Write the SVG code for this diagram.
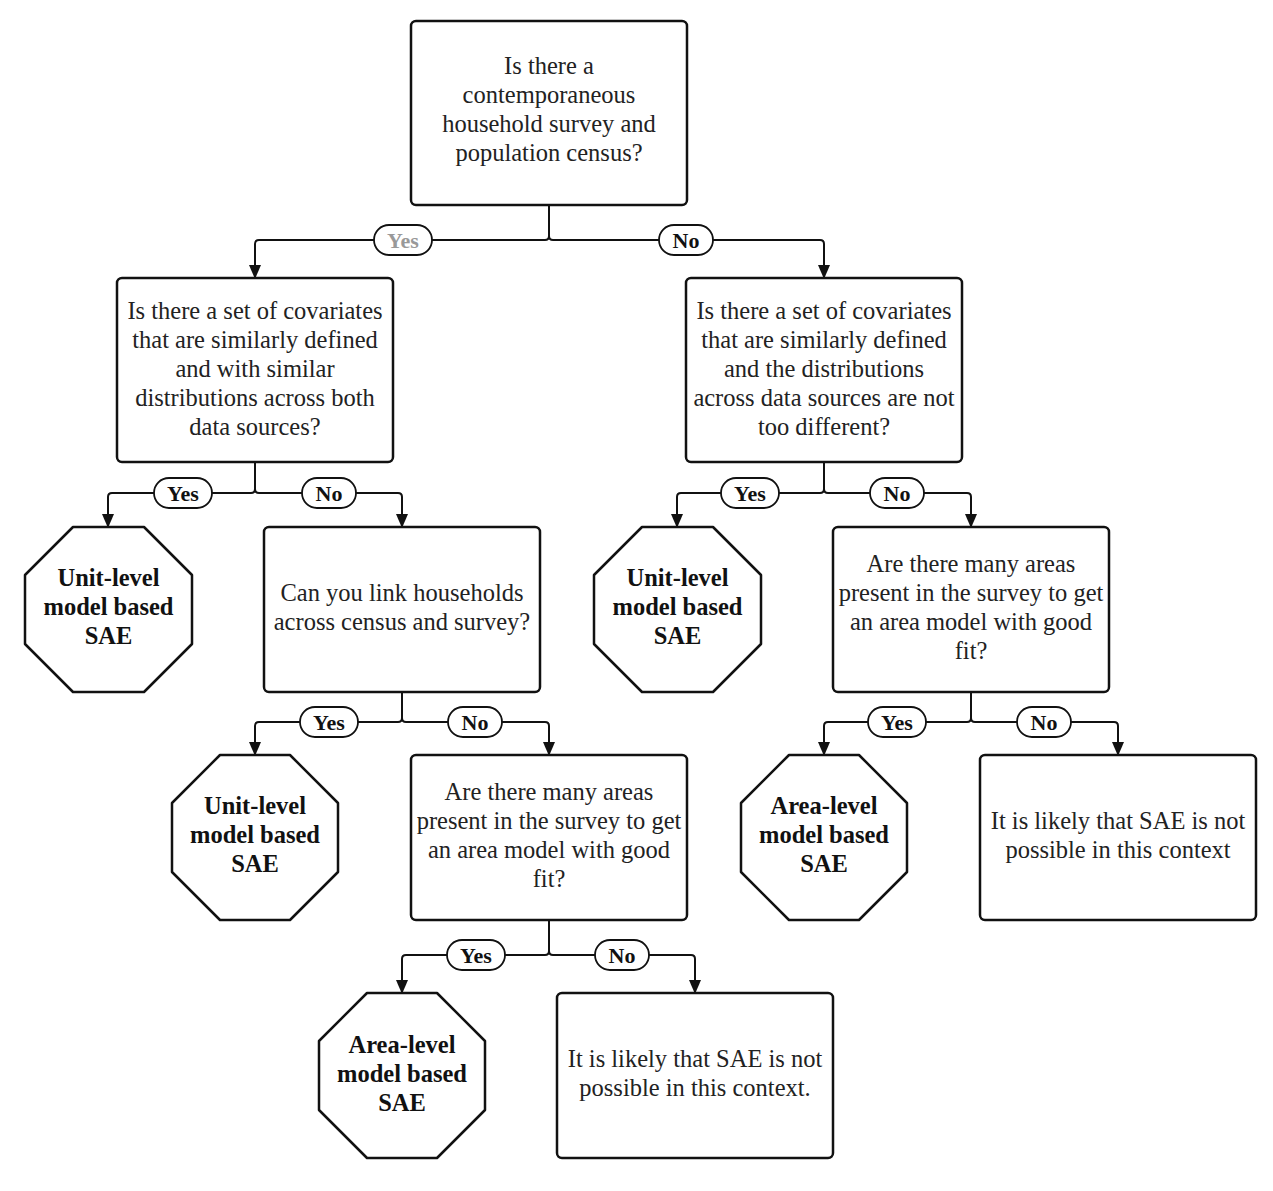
<svg xmlns="http://www.w3.org/2000/svg" width="1273" height="1191" viewBox="0 0 1273 1191">
<style>
.box{fill:#fff;stroke:#111;stroke-width:2.5}
.oct{fill:#fff;stroke:#111;stroke-width:2.5;stroke-linejoin:round}
.t{font-family:"Liberation Serif",serif;font-size:24.5px;fill:#222;text-anchor:middle}
.b{font-family:"Liberation Serif",serif;font-size:24.5px;font-weight:bold;fill:#111;text-anchor:middle}
.pill{fill:#fff;stroke:#111;stroke-width:1.8}
.pl{font-family:"Liberation Serif",serif;font-size:22px;font-weight:bold;fill:#111;text-anchor:middle}
.c{fill:none;stroke:#111;stroke-width:2;marker-end:url(#ah)}
</style>
<defs>
<marker id="ah" viewBox="0 0 14 12" refX="13" refY="6" markerWidth="14" markerHeight="12" markerUnits="userSpaceOnUse" orient="auto">
<path d="M0,0 L14,6 L0,12 z" fill="#111"/>
</marker>
</defs>
<rect width="1273" height="1191" fill="#fff"/>
<g id="connectors">
<path class="c" d="M549,205 V236 Q549,240 545,240 H259 Q255,240 255,244 V278"/>
<path class="c" d="M549,205 V236 Q549,240 553,240 H820 Q824,240 824,244 V278"/>
<path class="c" d="M255,462 V489 Q255,493 251,493 H112 Q108,493 108,497 V527"/>
<path class="c" d="M255,462 V489 Q255,493 259,493 H398 Q402,493 402,497 V527"/>
<path class="c" d="M824,462 V489 Q824,493 820,493 H681 Q677,493 677,497 V527"/>
<path class="c" d="M824,462 V489 Q824,493 828,493 H967 Q971,493 971,497 V527"/>
<path class="c" d="M402,692 V718 Q402,722 398,722 H259 Q255,722 255,726 V755"/>
<path class="c" d="M402,692 V718 Q402,722 406,722 H545 Q549,722 549,726 V755"/>
<path class="c" d="M971,692 V718 Q971,722 967,722 H828 Q824,722 824,726 V755"/>
<path class="c" d="M971,692 V718 Q971,722 975,722 H1114 Q1118,722 1118,726 V755"/>
<path class="c" d="M549,920 V951 Q549,955 545,955 H406 Q402,955 402,959 V993"/>
<path class="c" d="M549,920 V951 Q549,955 553,955 H691 Q695,955 695,959 V993"/>
<g id="labels">
<rect class="pill" x="374" y="225" width="58" height="30" rx="15"/><text class="pl" x="403" y="247.5" style="fill:#999">Yes</text>
<rect class="pill" x="659" y="225" width="54" height="30" rx="15"/><text class="pl" x="686" y="247.5">No</text>
<rect class="pill" x="154" y="478" width="58" height="30" rx="15"/><text class="pl" x="183" y="500.5">Yes</text>
<rect class="pill" x="302" y="478" width="54" height="30" rx="15"/><text class="pl" x="329" y="500.5">No</text>
<rect class="pill" x="721" y="478" width="58" height="30" rx="15"/><text class="pl" x="750" y="500.5">Yes</text>
<rect class="pill" x="870" y="478" width="54" height="30" rx="15"/><text class="pl" x="897" y="500.5">No</text>
<rect class="pill" x="300" y="707" width="58" height="30" rx="15"/><text class="pl" x="329" y="729.5">Yes</text>
<rect class="pill" x="448" y="707" width="54" height="30" rx="15"/><text class="pl" x="475" y="729.5">No</text>
<rect class="pill" x="868" y="707" width="58" height="30" rx="15"/><text class="pl" x="897" y="729.5">Yes</text>
<rect class="pill" x="1017" y="707" width="54" height="30" rx="15"/><text class="pl" x="1044" y="729.5">No</text>
<rect class="pill" x="447" y="940" width="58" height="30" rx="15"/><text class="pl" x="476" y="962.5">Yes</text>
<rect class="pill" x="595" y="940" width="54" height="30" rx="15"/><text class="pl" x="622" y="962.5">No</text>
</g>
</g>
<g id="q1">
<rect class="box" x="411" y="21" width="276" height="184" rx="5"/>
<text class="t" x="549" y="74">Is there a</text>
<text class="t" x="549" y="103">contemporaneous</text>
<text class="t" x="549" y="132">household survey and</text>
<text class="t" x="549" y="161">population census?</text>
</g>
<g id="q2left">
<rect class="box" x="117" y="278" width="276" height="184" rx="5"/>
<text class="t" x="255" y="319">Is there a set of covariates</text>
<text class="t" x="255" y="348">that are similarly defined</text>
<text class="t" x="255" y="377">and with similar</text>
<text class="t" x="255" y="406">distributions across both</text>
<text class="t" x="255" y="435">data sources?</text>
</g>
<g id="q2right">
<rect class="box" x="686" y="278" width="276" height="184" rx="5"/>
<text class="t" x="824" y="319">Is there a set of covariates</text>
<text class="t" x="824" y="348">that are similarly defined</text>
<text class="t" x="824" y="377">and the distributions</text>
<text class="t" x="824" y="406">across data sources are not</text>
<text class="t" x="824" y="435">too different?</text>
</g>
<g id="unit1">
<polygon class="oct" points="73,527 144,527 192,575 192,644 144,692 73,692 25,644 25,575"/>
<text class="b" x="108.5" y="586">Unit-level</text>
<text class="b" x="108.5" y="615">model based</text>
<text class="b" x="108.5" y="644">SAE</text>
</g>
<g id="q3link">
<rect class="box" x="264" y="527" width="276" height="165" rx="5"/>
<text class="t" x="402" y="601">Can you link households</text>
<text class="t" x="402" y="630">across census and survey?</text>
</g>
<g id="unit2">
<polygon class="oct" points="642,527 713,527 761,575 761,644 713,692 642,692 594,644 594,575"/>
<text class="b" x="677.5" y="586">Unit-level</text>
<text class="b" x="677.5" y="615">model based</text>
<text class="b" x="677.5" y="644">SAE</text>
</g>
<g id="q3right">
<rect class="box" x="833" y="527" width="276" height="165" rx="5"/>
<text class="t" x="971" y="572">Are there many areas</text>
<text class="t" x="971" y="601">present in the survey to get</text>
<text class="t" x="971" y="630">an area model with good</text>
<text class="t" x="971" y="659">fit?</text>
</g>
<g id="unit3">
<polygon class="oct" points="220,755 290,755 338,803 338,872 290,920 220,920 172,872 172,803"/>
<text class="b" x="255" y="814">Unit-level</text>
<text class="b" x="255" y="843">model based</text>
<text class="b" x="255" y="872">SAE</text>
</g>
<g id="q4left">
<rect class="box" x="411" y="755" width="276" height="165" rx="5"/>
<text class="t" x="549" y="800">Are there many areas</text>
<text class="t" x="549" y="829">present in the survey to get</text>
<text class="t" x="549" y="858">an area model with good</text>
<text class="t" x="549" y="887">fit?</text>
</g>
<g id="area1">
<polygon class="oct" points="789,755 859,755 907,803 907,872 859,920 789,920 741,872 741,803"/>
<text class="b" x="824" y="814">Area-level</text>
<text class="b" x="824" y="843">model based</text>
<text class="b" x="824" y="872">SAE</text>
</g>
<g id="notpossible1">
<rect class="box" x="980" y="755" width="276" height="165" rx="5"/>
<text class="t" x="1118" y="829">It is likely that SAE is not</text>
<text class="t" x="1118" y="858">possible in this context</text>
</g>
<g id="area2">
<polygon class="oct" points="367,993 437,993 485,1041 485,1110 437,1158 367,1158 319,1110 319,1041"/>
<text class="b" x="402" y="1053">Area-level</text>
<text class="b" x="402" y="1082">model based</text>
<text class="b" x="402" y="1111">SAE</text>
</g>
<g id="notpossible2">
<rect class="box" x="557" y="993" width="276" height="165" rx="5"/>
<text class="t" x="695" y="1067">It is likely that SAE is not</text>
<text class="t" x="695" y="1096">possible in this context.</text>
</g>
</svg>
